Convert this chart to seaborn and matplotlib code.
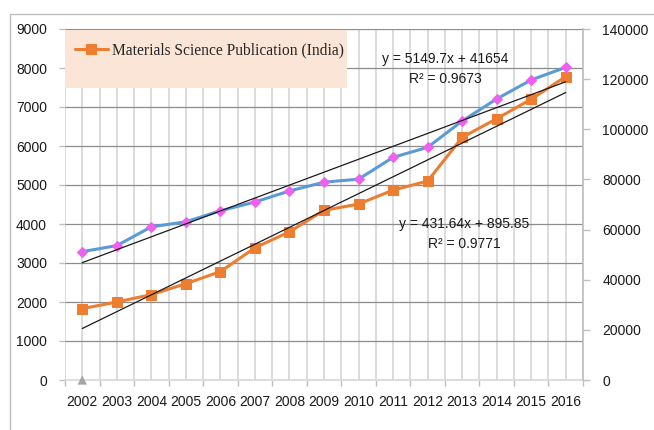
import matplotlib
matplotlib.use("Agg")
import matplotlib.pyplot as plt
from matplotlib.patches import Rectangle
from matplotlib.lines import Line2D
import numpy as np
import pandas as pd
import seaborn as sns

# values
years = list(range(2002, 2017))
india_pubs = [1830, 2000, 2190, 2470, 2780, 3390, 3800, 4350, 4510, 4870, 5100, 6220, 6700, 7200, 7780]
world_pubs = [51200, 53600, 61100, 63100, 67500, 71000, 75400, 78900, 80100, 88800, 92800,
              103300, 112100, 119700, 124700]
other_years = [2002]
other_vals = [0]

left_ticks = [0, 1000, 2000, 3000, 4000, 5000, 6000, 7000, 8000, 9000]
right_ticks = [0, 20000, 40000, 60000, 80000, 100000, 120000, 140000]

legend_label = "Materials Science Publication (India)"
world_eq = "y = 5149.7x + 41654"
world_r2 = "R² = 0.9673"
india_eq = "y = 431.64x + 895.85"
india_r2 = "R² = 0.9771"

orange = "#ED7D31"
blue = "#5B9BD5"
pink = "#F060F0"
text_col = "#1a1a1a"

sns.set_theme(style="white")
plt.rcParams["font.family"] = ["Liberation Sans", "DejaVu Sans"]

df = pd.DataFrame({"year": years, "india": india_pubs, "world": world_pubs})

fig = plt.figure(figsize=(6.54, 4.30), dpi=100)
ax = fig.add_axes([65 / 654, 1 - 380 / 430, (583 - 65) / 654, (380 - 29) / 430])
ax2 = ax.twinx()

# legend background box
ax.add_patch(Rectangle((0, 0.832), 0.544, 0.165, transform=ax.transAxes,
                       fc="#FBE5D6", ec="none", zorder=1))

# India series (left axis) + trend
sns.lineplot(data=df, x="year", y="india", ax=ax, color=orange, lw=2.2,
             marker="s", ms=7, mec=orange, label=legend_label, zorder=3)
sns.regplot(data=df, x="year", y="india", ax=ax, scatter=False, ci=None,
            line_kws=dict(color="#1a1a1a", lw=0.9, zorder=4))
sns.scatterplot(x=other_years, y=other_vals, ax=ax, marker="^", color="#A5A5A5",
                s=45, edgecolor="none", clip_on=False, zorder=5)

# world series (right axis) + trend
sns.lineplot(data=df, x="year", y="world", ax=ax2, color=blue, lw=2.2,
             marker="D", ms=5.5, mfc=pink, mec=pink, legend=False, zorder=3)
sns.regplot(data=df, x="year", y="world", ax=ax2, scatter=False, ci=None,
            line_kws=dict(color="#1a1a1a", lw=0.9, zorder=4))

# axes
ax.set_xlim(2001.5, 2016.5)
ax.set_xticks(years)
ax.set_xticks(np.arange(2001.5, 2017, 1.0), minor=True)
ax.set_ylim(0, 9000)
ax.set_yticks(left_ticks)
ax2.set_ylim(0, 140000)
ax2.set_yticks(right_ticks)
for a in (ax, ax2):
    a.set_xlabel("")
    a.set_ylabel("")

ax.grid(axis="x", which="both", color="#d9d9d9", lw=1.3)
ax.grid(axis="y", which="major", color="#8c8c8c", lw=0.9)
ax.set_axisbelow(True)

ax.tick_params(axis="x", which="major", length=0, pad=11, labelsize=10, labelcolor=text_col)
ax.tick_params(axis="x", which="minor", bottom=True, length=4, width=1, color="#bfbfbf")
ax.tick_params(axis="y", left=True, length=4, width=1, color="#bfbfbf", pad=9,
               labelsize=10, labelcolor=text_col)
ax2.tick_params(axis="y", right=True, length=5, width=1, color="#bfbfbf", pad=9,
                labelsize=10, labelcolor=text_col)

for s in ("left", "top", "right"):
    ax.spines[s].set_visible(False)
ax.spines["bottom"].set_color("#d9d9d9")
for s in ("left", "top", "bottom"):
    ax2.spines[s].set_visible(False)
ax2.spines["right"].set_color("#bfbfbf")

ax.legend(loc="center left", bbox_to_anchor=(0.019, 0.94), frameon=False, borderpad=0,
          borderaxespad=0, handlelength=2.1, handletextpad=0.3,
          prop=dict(family="Liberation Serif", size=11.2))

# trendline equations
fig.text(445 / 654, 1 - 59 / 430, world_eq, ha="center", va="center", fontsize=10, color=text_col)
fig.text(445 / 654, 1 - 79 / 430, world_r2, ha="center", va="center", fontsize=10, color=text_col)
fig.text(464 / 654, 1 - 224 / 430, india_eq, ha="center", va="center", fontsize=10, color=text_col)
fig.text(464 / 654, 1 - 244 / 430, india_r2, ha="center", va="center", fontsize=10, color=text_col)

# chart frame
fig.add_artist(Line2D([9.5 / 654, 9.5 / 654], [0, 1 - 13.5 / 430], transform=fig.transFigure,
                      color="#bfbfbf", lw=1))
fig.add_artist(Line2D([9.5 / 654, 1], [1 - 13.5 / 430, 1 - 13.5 / 430], transform=fig.transFigure,
                      color="#bfbfbf", lw=1))

fig.savefig("out.png", dpi=100)
